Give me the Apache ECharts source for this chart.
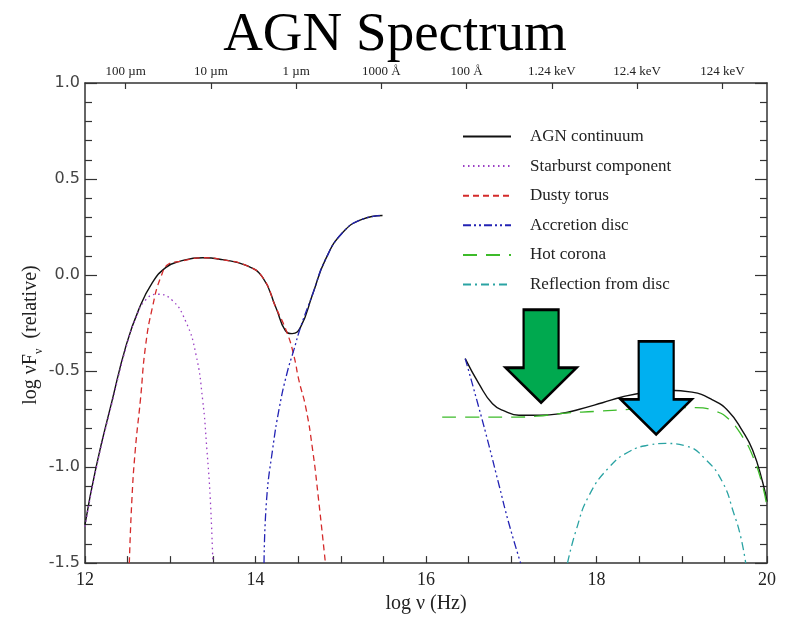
<!DOCTYPE html>
<html>
<head>
<meta charset="utf-8">
<title>AGN Spectrum</title>
<script src="https://cdn.jsdelivr.net/npm/echarts@6/dist/echarts.min.js"></script>
<style>
html, body { margin: 0; padding: 0; background: #fff; }
#chart { width: 790px; height: 619px; }
</style>
</head>
<body>
<div id="chart"></div>
<script>
// values (log nu, log nuFnu)
var agnLeftX = [12.0, 12.13, 12.32, 12.48, 12.63, 12.79, 12.95, 13.10, 13.38, 13.61, 13.89, 14.08, 14.24, 14.35, 14.43, 14.53, 14.67, 14.82, 15.02, 15.25, 15.49];
var agnLeftY = [-1.30, -1.00, -0.65, -0.37, -0.18, -0.04, 0.04, 0.07, 0.09, 0.08, 0.05, -0.01, -0.17, -0.29, -0.305, -0.27, -0.10, 0.08, 0.22, 0.29, 0.31];
var agnRightX = [16.46, 16.62, 16.78, 16.93, 17.09, 17.33, 17.60, 17.79, 18.07, 18.30, 18.58, 18.85, 19.12, 19.36, 19.55, 19.71, 19.83, 19.95, 20.0];
var agnRightY = [-0.435, -0.565, -0.67, -0.71, -0.73, -0.73, -0.72, -0.70, -0.665, -0.635, -0.61, -0.60, -0.61, -0.65, -0.71, -0.81, -0.91, -1.08, -1.18];

var starX = [12.0, 12.13, 12.32, 12.48, 12.59, 12.71, 12.85, 13.02, 13.18, 13.30, 13.38, 13.43, 13.47, 13.50];
var starY = [-1.31, -1.01, -0.66, -0.38, -0.23, -0.13, -0.10, -0.13, -0.24, -0.41, -0.65, -0.91, -1.17, -1.5];

var torusX = [12.52, 12.55, 12.59, 12.65, 12.71, 12.79, 12.89, 12.99, 13.10, 13.38, 13.61, 13.89, 14.08, 14.24, 14.37, 14.45, 14.51, 14.59, 14.67, 14.74, 14.82];
var torusY = [-1.5, -1.17, -0.91, -0.65, -0.37, -0.17, -0.01, 0.06, 0.07, 0.09, 0.08, 0.05, -0.01, -0.17, -0.30, -0.42, -0.55, -0.69, -0.91, -1.17, -1.5];

var discLeftX = [14.10, 14.13, 14.20, 14.28, 14.37, 14.45, 14.53, 14.67, 14.82, 15.02, 15.25, 15.49];
var discLeftY = [-1.5, -1.17, -0.91, -0.69, -0.51, -0.39, -0.27, -0.10, 0.08, 0.22, 0.29, 0.31];
var discRightX = [16.46, 16.62, 16.74, 16.86, 16.97, 17.11];
var discRightY = [-0.435, -0.69, -0.89, -1.10, -1.29, -1.5];

var coronaX = [16.19, 16.6, 17.0, 17.3, 17.60, 17.99, 18.38, 18.77, 19.16, 19.40, 19.55, 19.71, 19.83, 19.95, 20.0];
var coronaY = [-0.74, -0.74, -0.74, -0.735, -0.72, -0.71, -0.70, -0.69, -0.69, -0.71, -0.75, -0.84, -0.94, -1.10, -1.21];

var reflX = [17.66, 17.76, 17.91, 18.15, 18.38, 18.62, 18.81, 19.05, 19.28, 19.48, 19.61, 19.69, 19.75];
var reflY = [-1.5, -1.33, -1.15, -1.00, -0.92, -0.885, -0.877, -0.89, -0.96, -1.08, -1.24, -1.36, -1.5];

// top axis: wavelength / energy marks
var topTicks = [12.477, 13.477, 14.477, 15.477, 16.477, 17.477, 18.477, 19.477];
var topLabels = ['100 \u00b5m', '10 \u00b5m', '1 \u00b5m', '1000 \u00c5', '100 \u00c5', '1.24 keV', '12.4 keV', '124 keV'];

var seriesNames = ['AGN continuum', 'Starburst component', 'Dusty torus', 'Accretion disc', 'Hot corona', 'Reflection from disc'];

// arrow tips
var arrowTips = [[17.35, -0.665], [18.70, -0.83]];
var arrowColors = ['#00a94f', '#00b0f0'];

function pairs(xs, ys) {
    return xs.map(function (x, i) { return [x, ys[i]]; });
}

var serif = 'Liberation Serif';
var axisColor = '#333';

var chart = echarts.init(document.getElementById('chart'));

function lineSeries(name, data, color, dash, width) {
    return {
        name: name,
        type: 'line',
        data: data,
        symbol: 'none',
        smooth: 0.5,
        silent: true,
        lineStyle: { color: color, width: width || 1.3, type: dash },
        itemStyle: { color: color }
    };
}

var arrowPath = 'path://M18,0 L53,0 L53,58 L71,58 L35.5,93 L0,58 L18,58 Z';

var option = {
    backgroundColor: '#fff',
    animation: false,
    title: {
        text: 'AGN Spectrum',
        left: 'center',
        top: 3,
        textStyle: { fontFamily: serif, fontSize: 55, fontWeight: 'normal', color: '#000' }
    },
    grid: { left: 85, right: 23, top: 83, bottom: 52 },
    legend: {
        data: seriesNames,
        orient: 'vertical',
        left: 457,
        top: 123,
        itemWidth: 48,
        itemHeight: 14,
        itemGap: 12.6,
        selectedMode: false,
        itemStyle: { color: 'rgba(0,0,0,0)', borderColor: 'rgba(0,0,0,0)', borderWidth: 0 },
        textStyle: { fontFamily: serif, fontSize: 17, color: '#222', padding: [0, 0, 0, 14] }
    },
    xAxis: [{
        type: 'value',
        min: 12, max: 20, interval: 2,
        name: 'log \u03bd (Hz)',
        nameLocation: 'middle',
        nameGap: 28,
        nameTextStyle: { fontFamily: serif, fontSize: 20, color: '#222' },
        axisLine: { onZero: false, lineStyle: { color: axisColor, width: 1.5 } },
        axisTick: { inside: true, length: 7, lineStyle: { color: axisColor, width: 1.2 } },
        minorTick: { show: true, splitNumber: 4, length: 7, lineStyle: { color: axisColor, width: 1.2 } },
        axisLabel: { fontFamily: serif, fontSize: 18, color: '#222', margin: 8 },
        splitLine: { show: false }
    }, {
        type: 'value',
        position: 'top',
        min: 12, max: 20,
        axisLine: { onZero: false, lineStyle: { color: axisColor, width: 1.5 } },
        axisTick: { inside: true, length: 6, customValues: topTicks, lineStyle: { color: axisColor, width: 1.2 } },
        axisLabel: {
            customValues: topTicks,
            fontFamily: serif, fontSize: 13, color: '#222', margin: 5,
            formatter: function (v) {
                for (var i = 0; i < topTicks.length; i++) {
                    if (Math.abs(topTicks[i] - v) < 1e-6) return topLabels[i];
                }
                return '';
            }
        },
        splitLine: { show: false }
    }],
    yAxis: [{
        type: 'value',
        min: -1.5, max: 1, interval: 0.5,
        name: '{a|log \u03bdF}{s|\u03bd}{a|  (relative)}',
        nameLocation: 'middle',
        nameGap: 44,
        nameMoveOverlap: false,
        nameTextStyle: {
            padding: [0, 24, 0, 0],
            rich: {
                a: { fontFamily: serif, fontSize: 20, color: '#222', lineHeight: 24, verticalAlign: 'bottom' },
                s: { fontFamily: serif, fontSize: 12, color: '#222', lineHeight: 24, verticalAlign: 'bottom', padding: [0, 0, -4, 0] }
            }
        },
        axisLine: { onZero: false, lineStyle: { color: axisColor, width: 1.5 } },
        axisTick: { inside: true, length: 12, lineStyle: { color: axisColor, width: 1.2 } },
        minorTick: { show: true, splitNumber: 5, length: 7, lineStyle: { color: axisColor, width: 1.2 } },
        axisLabel: {
            fontFamily: 'DejaVu Sans', fontSize: 16, color: '#444', margin: 5,
            formatter: function (v) { return v.toFixed(1); }
        },
        splitLine: { show: false }
    }, {
        type: 'value',
        position: 'right',
        min: -1.5, max: 1, interval: 0.5,
        axisLine: { onZero: false, lineStyle: { color: axisColor, width: 1.5 } },
        axisTick: { inside: true, length: 12, lineStyle: { color: axisColor, width: 1.2 } },
        minorTick: { show: true, splitNumber: 5, length: 7, lineStyle: { color: axisColor, width: 1.2 } },
        axisLabel: { show: false },
        splitLine: { show: false }
    }],
    series: [
        lineSeries(seriesNames[0],
            pairs(agnLeftX, agnLeftY).concat([['-', '-']], pairs(agnRightX, agnRightY)),
            '#111', 'solid', 1.4),
        lineSeries(seriesNames[1], pairs(starX, starY), '#9a3fc4', [1.5, 3.5]),
        lineSeries(seriesNames[2], pairs(torusX, torusY), '#d42a2a', [6, 4]),
        lineSeries(seriesNames[3],
            pairs(discLeftX, discLeftY).concat([['-', '-']], pairs(discRightX, discRightY)),
            '#2323b4', [8, 3, 2, 3, 2, 3]),
        lineSeries(seriesNames[4], pairs(coronaX, coronaY), '#3dbb2a', [14, 9]),
        lineSeries(seriesNames[5], pairs(reflX, reflY), '#2aa3a3', [8, 4, 2, 4]),
        {
            name: 'arrows',
            type: 'scatter',
            data: [],
            silent: true,
            z: 10,
            markPoint: {
                silent: true,
                symbol: arrowPath,
                symbolSize: [71, 93],
                symbolKeepAspect: false,
                symbolOffset: [0, -46.5],
                label: { show: false },
                data: arrowTips.map(function (p, i) {
                    return {
                        coord: p,
                        itemStyle: { color: arrowColors[i], borderColor: '#000', borderWidth: 2.5 }
                    };
                })
            }
        }
    ]
};

chart.setOption(option);
</script>
</body>
</html>
